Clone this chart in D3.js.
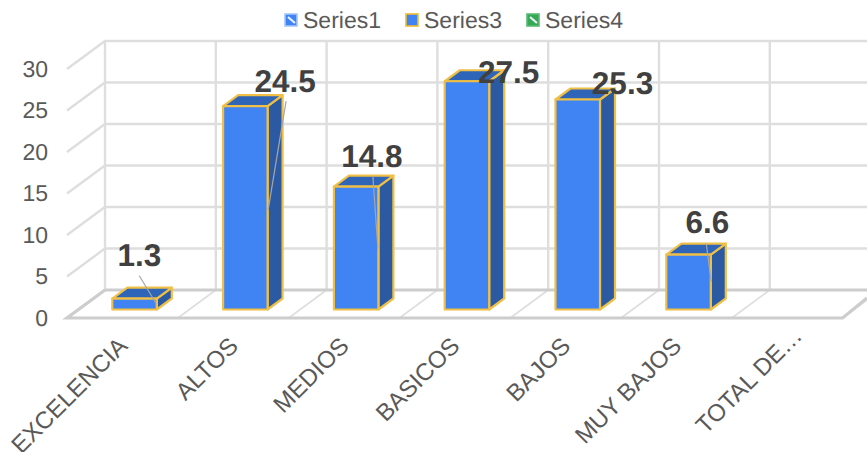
<!DOCTYPE html>
<html><head><meta charset="utf-8">
<script src="https://cdn.jsdelivr.net/npm/d3@7/dist/d3.min.js"></script>
<style>html,body{margin:0;padding:0;background:#fff}svg{display:block}text{font-family:"Liberation Sans",Arial,sans-serif;text-rendering:geometricPrecision}</style>
</head><body><svg id="c" width="867" height="452"></svg>
<script>
const categories = ["EXCELENCIA","ALTOS","MEDIOS","BASICOS","BAJOS","MUY BAJOS","TOTAL DE…"];
const series3 = [1.3,24.5,14.8,27.5,25.3,6.6,null];
const valueTicks = [0,5,10,15,20,25,30];
const legendNames = ["Series1","Series3","Series4"];

const svg = d3.select("#c");
const depthX = 38, depthY = 28;
const frontLeft = 67, frontBottom = 318, plotH = 249, slot = 110.8;
const y = d3.scaleLinear().domain([0,30]).range([frontBottom, frontBottom-plotH]);
const x = d3.scaleBand().domain(categories).range([frontLeft, frontLeft+slot*7]);
const grid = "#dedede";

const gGrid = svg.append("g").attr("fill","none").attr("stroke",grid).attr("stroke-width",2.4);
valueTicks.slice(1).forEach(v=>{
  gGrid.append("path").attr("d",`M${frontLeft},${y(v)}L${frontLeft+depthX},${y(v)-depthY}H867`);
});
d3.range(0,8).forEach(i=>{
  const xx = frontLeft+slot*i+depthX;
  gGrid.append("path").attr("d",`M${xx},${y(30)-depthY}V${y(0)-depthY}`);
});
d3.range(1,8).forEach(i=>{
  const xx = frontLeft+slot*i;
  gGrid.append("path").attr("d",`M${xx},${y(0)}L${xx+depthX},${y(0)-depthY}`).attr("stroke-width",1.6);
});
svg.append("path").attr("fill","none").attr("stroke","#cdcdcd").attr("stroke-width",3.2)
  .attr("d",`M${frontLeft+depthX},${y(0)-depthY}H867`);
svg.append("path").attr("fill","none").attr("stroke","#cdcdcd").attr("stroke-width",3.2)
  .attr("d",`M${frontLeft+depthX},${y(0)-depthY}L${frontLeft},${y(0)}H${frontLeft+slot*7}L867,${y(0)-20}`);

const barW = 44.5, bDx = 15, bDy = 11, barBase = 8.5, barLeft = 45.3;
const data = categories.map((c,i)=>({c,v:series3[i],i})).filter(d=>d.v!=null);
const scaleH = v => y(0)-y(v);
const gBars = svg.append("g").attr("stroke","#f0bf45").attr("stroke-width",2.2).attr("stroke-linejoin","round");
data.forEach(d=>{
  const x0 = x(d.c)+barLeft, x1 = x0+barW, b = y(0)-barBase, t = b-scaleH(d.v);
  const g = gBars.append("g");
  g.append("path").attr("fill","#2b5aa3").attr("d",`M${x1},${b}L${x1+bDx},${b-bDy}V${t-bDy}L${x1},${t}Z`);
  g.append("path").attr("fill","#2f65b8").attr("d",`M${x0},${t}L${x0+bDx},${t-bDy}H${x1+bDx}L${x1},${t}Z`);
  g.append("rect").attr("fill","#3f84f2").attr("x",x0).attr("y",t).attr("width",barW).attr("height",b-t);
});

const labelAnchors = [[27,-44],[62,-25],[38,-31],[64,-9],[67,-17],[41,-33]];
const leaderLines = [[[27,-23],[44,5]],[[63,-5],[45,104]],[[39,-10],[44,62]],null,null,[[40,-11],[45,27]]];
const gLab = svg.append("g");
data.forEach((d,k)=>{
  const x0 = x(d.c)+barLeft, b = y(0)-barBase, t = b-scaleH(d.v);
  if(leaderLines[k]) gLab.append("line").attr("stroke","#a6a6a6").attr("stroke-width",1.2)
    .attr("x1",x0+leaderLines[k][0][0]).attr("y1",t+leaderLines[k][0][1])
    .attr("x2",x0+leaderLines[k][1][0]).attr("y2",t+leaderLines[k][1][1]);
  gLab.append("text").attr("x",x0+labelAnchors[k][0]).attr("y",t+labelAnchors[k][1])
    .attr("text-anchor","middle").attr("dominant-baseline","central")
    .attr("font-size",31.5).attr("font-weight","bold").attr("fill","#404040").text(d.v.toFixed(1));
});

const axisY = d3.axisLeft(y).tickValues(valueTicks).tickSize(0).tickPadding(0);
const ga = svg.append("g").attr("transform","translate(48,0)").call(axisY);
ga.select(".domain").remove();
ga.selectAll("text").attr("font-size",23).attr("fill","#595959")
  .style("font-family",'"Liberation Sans",Arial,sans-serif');

const labelShift = [0,0,0,0,0,0,10];
const gx = svg.append("g");
categories.forEach((c,i)=>{
  gx.append("text").attr("transform",`translate(${x(c)+x.bandwidth()/2+1+labelShift[i]},${342-labelShift[i]}) rotate(-45)`)
    .attr("text-anchor","end").attr("dominant-baseline","central")
    .attr("font-size",24).attr("fill","#595959").text(c);
});

const legendX = [285,406,527], legendFill = ["#3f84f2","#3f84f2","#34a853"], legendStroke=["#a5c6f9","#f2bb2e","#5cb874"];
const gl = svg.append("g");
legendNames.forEach((n,i)=>{
  gl.append("rect").attr("x",legendX[i]).attr("y",14).attr("width",12).attr("height",12)
    .attr("fill",legendFill[i]).attr("stroke",legendStroke[i]).attr("stroke-width",1.6);
  if(i!==1) gl.append("path").attr("d",`M${legendX[i]+3},${17}L${legendX[i]+10},${23}`)
    .attr("stroke","#e8f0fb").attr("stroke-width",2.2);
  gl.append("text").attr("x",legendX[i]+18).attr("y",20).attr("dominant-baseline","central")
    .attr("font-size",23).attr("fill","#595959").text(n);
});
</script></body></html>
